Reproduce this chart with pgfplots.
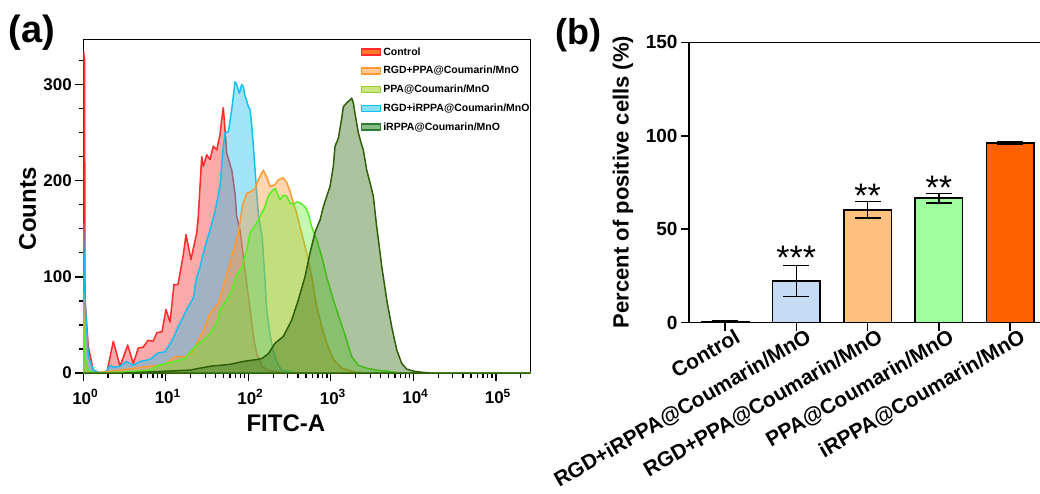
\documentclass[border=0pt]{standalone}
\usepackage{fontspec}
\setmainfont{Liberation Sans}
\usepackage{pgfplots}
\pgfplotsset{compat=1.18}
\definecolor{cRed}{HTML}{FF2A2A}
\definecolor{cBlue}{HTML}{16BFF0}
\definecolor{cOrange}{HTML}{FF9933}
\definecolor{cGreen}{HTML}{55EE22}
\definecolor{cDark}{HTML}{2E6B0E}
\definecolor{cDarkLine}{HTML}{2F5F0A}
\definecolor{bBlue}{HTML}{C6DCF5}
\definecolor{bOrange}{HTML}{FFC080}
\definecolor{bGreen}{HTML}{A0FF9E}
\definecolor{bRed}{HTML}{FF6100}
\definecolor{lgPPA}{HTML}{99CC33}
\definecolor{lgPPAf}{HTML}{CCE680}
\definecolor{lgDark}{HTML}{2E7D32}
\definecolor{lgDarkf}{HTML}{88BB88}

\pgfplotstableread{
L C
0 0
0.001 336
0.015 326
0.021 76
0.061 27
0.121 3
0.202 0
0.284 0
0.364 33
0.445 7
0.538 29
0.606 10
0.667 26
0.727 27
0.784 34
0.845 33
0.893 42
0.954 43
1.002 66
1.051 53
1.099 92
1.148 92
1.212 123
1.245 144
1.305 118
1.375 146
1.394 163
1.435 225
1.455 215
1.496 227
1.536 222
1.576 236
1.617 232
1.657 248
1.678 264
1.697 276
1.718 253
1.738 229
1.799 211
1.839 187
1.859 163
1.899 149
1.960 107
2.021 66
2.070 34
2.105 19
2.166 7
2.239 3
2.445 0
5.42 0
}\ctrl

\pgfplotstableread{
L C
0 0
0.001 155
0.02 79
0.061 17
0.121 3
0.202 0
0.284 2
0.324 8
0.364 6
0.445 7
0.526 12
0.606 8
0.687 12
0.808 14
0.909 21
0.990 22
1.072 33
1.162 50
1.253 66
1.333 78
1.375 100
1.415 110
1.455 125
1.536 149
1.596 168
1.657 194
1.697 236
1.718 250
1.758 251
1.799 274
1.839 303
1.859 300
1.891 291
1.920 300
1.939 298
1.960 288
1.981 283
2.000 277
2.021 274
2.041 258
2.061 236
2.082 211
2.102 187
2.121 165
2.170 140
2.200 100
2.223 66
2.263 40
2.299 24
2.348 11
2.405 3
2.566 0
5.42 0
}\rgdirppa

\pgfplotstableread{
L C
0 0
0.001 83
0.02 12
0.061 2
0.121 0
0.445 3
0.808 7
0.990 9
1.112 17
1.233 17
1.318 21
1.455 44
1.536 62
1.576 66
1.636 73
1.697 90
1.778 115
1.859 139
1.899 156
1.920 170
1.939 177
1.981 187
2.041 189
2.082 192
2.121 201
2.162 208
2.182 211
2.223 204
2.263 194
2.324 196
2.364 201
2.424 203
2.465 198
2.505 189
2.545 177
2.587 166
2.627 152
2.708 125
2.768 100
2.829 69
2.890 48
2.950 31
3.030 14
3.132 5
3.293 1
3.414 0
5.42 0
}\rgdppa

\pgfplotstableread{
L C
0 0
0.001 55
0.02 15
0.061 3
0.121 0
0.5 1
0.808 3
0.909 8
1.112 12
1.233 15
1.293 22
1.375 29
1.455 34
1.536 41
1.617 52
1.657 66
1.738 76
1.799 86
1.859 102
1.920 109
1.981 128
2.021 146
2.102 156
2.141 163
2.202 173
2.242 184
2.284 189
2.324 192
2.352 187
2.384 180
2.424 185
2.465 184
2.505 177
2.545 175
2.587 178
2.627 177
2.687 173
2.727 166
2.768 152
2.829 139
2.890 121
2.950 100
3.030 76
3.112 55
3.193 34
3.253 17
3.333 8
3.435 5
3.556 3
3.678 2
3.84 0
5.42 0
}\ppa

\pgfplotstableread{
L C
0 0
0.5 0
1.293 3
1.536 7
1.778 9
1.939 12
2.102 14
2.162 15
2.242 20
2.324 31
2.424 38
2.526 55
2.606 76
2.687 100
2.748 125
2.808 146
2.848 155
2.869 159
2.909 173
2.990 194
3.030 215
3.051 236
3.091 244
3.132 265
3.152 277
3.193 281
3.233 284
3.253 286
3.273 281
3.293 270
3.333 250
3.375 237
3.394 232
3.435 211
3.475 198
3.515 184
3.556 152
3.576 139
3.617 111
3.678 76
3.738 48
3.799 24
3.859 10
3.920 4
4.000 2
4.081 1
4.2 0
5.42 0
}\irppa

\begin{document}
\begin{tikzpicture}[x=1pt,y=1pt]
\path[use as bounding box] (0,0) rectangle (1040,493);

\begin{axis}[
  at={(83.3pt,120pt)}, anchor=south west, scale only axis,
  width=447.2pt, height=333.6pt,
  xmin=0, xmax=5.42, ymin=0, ymax=347,
  axis line style={line width=1.5pt},
  tick style={line width=1.3pt, black},
  tick align=outside, xtick pos=bottom, ytick pos=left,
  major tick length=8pt, minor tick length=4.5pt,
  xtick={0,1,2,3,4,5},
  xticklabels={10\textsuperscript{0},10\textsuperscript{1},10\textsuperscript{2},10\textsuperscript{3},10\textsuperscript{4},10\textsuperscript{5}},
  minor xtick={0.301,0.477,0.602,0.699,0.778,0.845,0.903,0.954,
    1.301,1.477,1.602,1.699,1.778,1.845,1.903,1.954,
    2.301,2.477,2.602,2.699,2.778,2.845,2.903,2.954,
    3.301,3.477,3.602,3.699,3.778,3.845,3.903,3.954,
    4.301,4.477,4.602,4.699,4.778,4.845,4.903,4.954,5.301},
  ytick={0,100,200,300},
  minor ytick={25,50,75,125,150,175,225,250,275,325},
  /pgf/number format/assume math mode=true,
  ticklabel style={font=\fontsize{17}{17}\selectfont\bfseries},
  xticklabel style={yshift=-5pt, xshift=2pt},
  xlabel={FITC-A}, ylabel={Counts},
  label style={font=\fontsize{24}{24}\selectfont\bfseries},
  xlabel style={at={(axis description cs:0.453,-0.150)}, anchor=center},
  ylabel style={at={(axis description cs:-0.1248,0.492)}, anchor=center},
  legend style={at={(rel axis cs:0.62,0.982)}, anchor=north west, draw=none, fill=none,
    font=\fontsize{10.5}{12}\selectfont\bfseries, row sep=5.6pt, inner sep=0pt,
    cells={anchor=west}},
  legend image code/.code={\draw[#1, line width=1.5pt] (0pt,-3pt) rectangle (19pt,3pt);},
  every axis plot/.append style={line width=1.5pt, line join=round},
]
\addplot[draw=cRed, fill=cRed, fill opacity=0.4, forget plot] table[x=L,y=C] {\ctrl} \closedcycle;
\addplot[draw=cBlue, fill=cBlue, fill opacity=0.4, forget plot] table[x=L,y=C] {\rgdirppa} \closedcycle;
\addplot[draw=cOrange, fill=cOrange, fill opacity=0.4, forget plot] table[x=L,y=C] {\rgdppa} \closedcycle;
\addplot[draw=cGreen, fill=cGreen, fill opacity=0.35, forget plot] table[x=L,y=C] {\ppa} \closedcycle;
\addplot[draw=cDarkLine, fill=cDark, fill opacity=0.4, forget plot] table[x=L,y=C] {\irppa} \closedcycle;

\addlegendimage{draw=cRed, fill=cOrange!80!red}
\addlegendentry{Control}
\addlegendimage{draw=cOrange, fill=cOrange!50}
\addlegendentry{RGD+PPA@Coumarin/MnO}
\addlegendimage{draw=lgPPA, fill=lgPPAf}
\addlegendentry{PPA@Coumarin/MnO}
\addlegendimage{draw=cBlue, fill=cBlue!50}
\addlegendentry{RGD+iRPPA@Coumarin/MnO}
\addlegendimage{draw=lgDark, fill=lgDarkf}
\addlegendentry{iRPPA@Coumarin/MnO}
\end{axis}

\begin{axis}[
  at={(689pt,170.3pt)}, anchor=south west, scale only axis,
  width=353pt, height=280.4pt,
  xmin=-0.505, xmax=4.446, ymin=0, ymax=150,
  axis line style={line width=1.5pt},
  tick style={line width=1.5pt, black},
  tick align=outside, xtick pos=bottom, ytick pos=left,
  major tick length=8pt,
  xtick={0,1,2,3,4},
  xticklabels={Control,RGD+iRPPA@Coumarin/MnO,RGD+PPA@Coumarin/MnO,PPA@Coumarin/MnO,iRPPA@Coumarin/MnO},
  ytick={0,50,100,150},
  /pgf/number format/assume math mode=true,
  yticklabel style={font=\fontsize{19}{19}\selectfont\bfseries},
  xticklabel style={font=\fontsize{21}{21}\selectfont\bfseries, rotate=30, anchor=north east, inner sep=1pt, xshift=10pt, yshift=-1pt},
  ylabel={Percent of positive cells (\%)},
  ylabel style={font=\fontsize{22}{22}\selectfont\bfseries, at={(axis description cs:-0.187,0.502)}, anchor=center},
  every axis plot/.append style={ybar, bar width=47.5pt, bar shift=0pt, draw=black, line width=1.5pt},
  clip=false,
  error bars/y dir=both, error bars/y explicit,
  error bars/error bar style={line width=1.5pt, black},
  error bars/error mark options={rotate=90, mark size=13pt, line width=1.5pt, black},
]
\addplot[fill=white] coordinates {(0,0.5) +- (0,0.3)};
\addplot[fill=bBlue] coordinates {(1,22.3) +- (0,8.3)};
\addplot[fill=bOrange] coordinates {(2,60.4) +- (0,4.4)};
\addplot[fill=bGreen] coordinates {(3,66.6) +- (0,2.6)};
\addplot[fill=bRed] coordinates {(4,96.1) +- (0,0.5)};
\node[font=\fontsize{34}{34}\selectfont] at (axis cs:1,34.6) {***};
\node[font=\fontsize{34}{34}\selectfont] at (axis cs:2,68) {**};
\node[font=\fontsize{34}{34}\selectfont] at (axis cs:3,71.9) {**};
\end{axis}

\node[font=\fontsize{38}{38}\selectfont\bfseries] at (32,460) {(a)};
\node[font=\fontsize{36}{36}\selectfont\bfseries] at (578,458) {(b)};
\end{tikzpicture}
\end{document}
